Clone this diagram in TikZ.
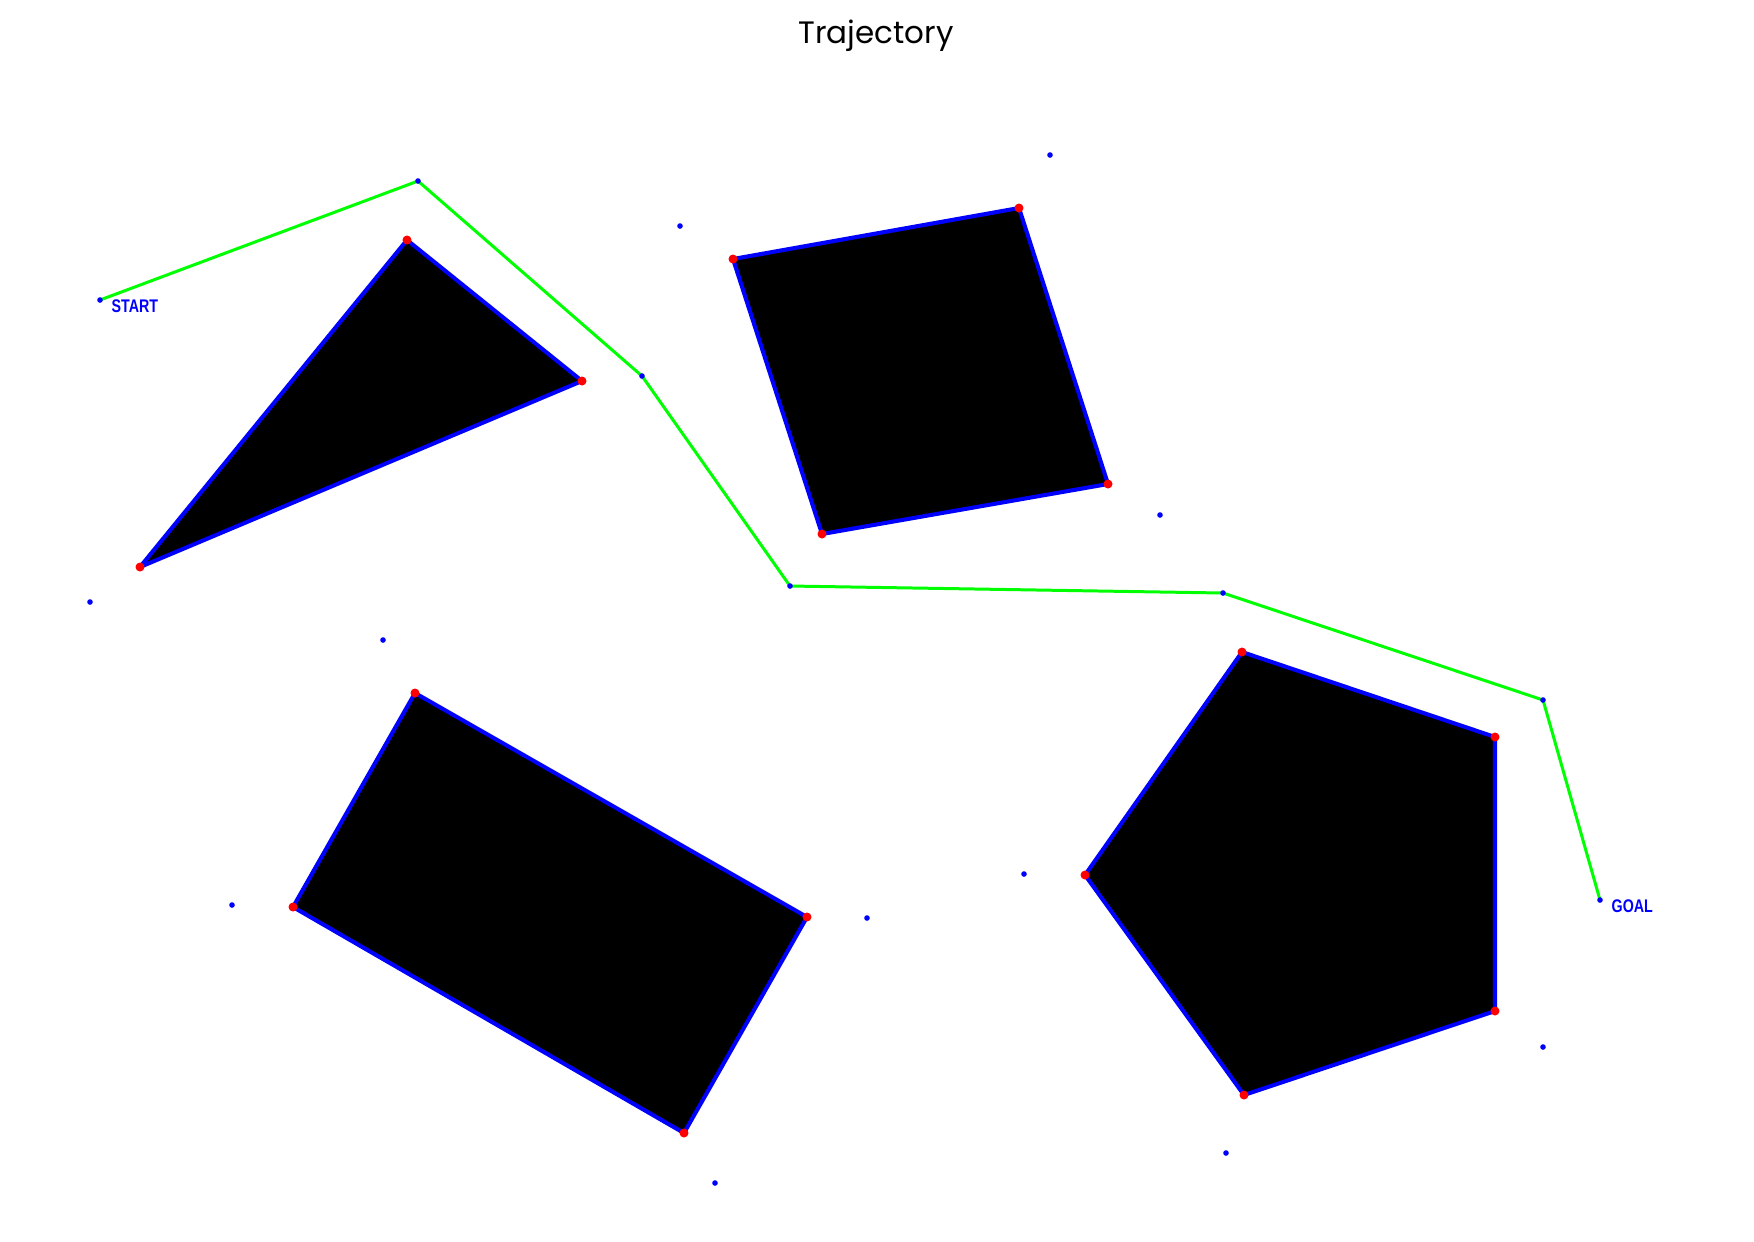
\documentclass[tikz,border=0pt]{standalone}
\usepackage{fontspec}
\setmainfont{Liberation Sans}
\newfontfamily\titlefont{Poppins}
\usetikzlibrary{calc}
\definecolor{pathgreen}{RGB}{0,255,0}
\definecolor{pureblue}{RGB}{0,0,255}
\definecolor{purered}{RGB}{255,0,0}
\tikzset{
  obstacle/.style={draw=pureblue, fill=black, line width=1.15pt, line join=round},
  route/.style={draw=pathgreen, line width=0.85pt},
  corner/.style={fill=purered},
  sample/.style={fill=pureblue},
  tag/.style={text=pureblue, inner sep=0pt, font=\bfseries\fontsize{5.2}{6}\selectfont}
}
\begin{document}
\begin{tikzpicture}[x=0.01cm, y=-0.01cm]
            \useasboundingbox (0,0) rectangle (1754,1241);
            % title
            \node[anchor=base, inner sep=0pt, font=\titlefont\fontsize{8.8}{10}\selectfont] (title) at (876,43) {Trajectory};
            % waypoints
            \coordinate(S)at(100,300);
            \coordinate(W1)at(418,181);
            \coordinate(W2)at(642,376);
            \coordinate(W3)at(790,586);
            \coordinate(W4)at(1223,593);
            \coordinate(W5)at(1543,700);
            \coordinate(G)at(1600,900);
            % triangle
            \coordinate(T1)at(407,240);
            \coordinate(T2)at(582,381);
            \coordinate(T3)at(140,567);
            % square
            \coordinate(Q1)at(733,259);
            \coordinate(Q2)at(1019,208);
            \coordinate(Q3)at(1108,484);
            \coordinate(Q4)at(822,534);
            % rectangle
            \coordinate(R1)at(415,693);
            \coordinate(R2)at(807,917);
            \coordinate(R3)at(684,1133);
            \coordinate(R4)at(293,907);
            % pentagon
            \coordinate(F1)at(1242,652);
            \coordinate(F2)at(1495,737);
            \coordinate(F3)at(1495,1011);
            \coordinate(F4)at(1244,1095);
            \coordinate(F5)at(1085,875);
            % obstacles
            \path[obstacle](T1)--(T2)--(T3)--cycle;
            \path[obstacle](Q1)--(Q2)--(Q3)--(Q4)--cycle;
            \path[obstacle](R1)--(R2)--(R3)--(R4)--cycle;
            \path[obstacle](F1)--(F2)--(F3)--(F4)--(F5)--cycle;
            % obstacle corners
            \foreach \c in {T1,T2,T3,Q1,Q2,Q3,Q4,R1,R2,R3,R4,F1,F2,F3,F4,F5}
              \path[corner](\c)circle(4.5);
            % path
            \path[route](S)--(W1)--(W2)--(W3)--(W4)--(W5)--(G);
            % samples
            \foreach \p in {(1050,155),(680,226),(1160,515),(90,602),(383,640),(232,905),(867,918),(715,1183),(1024,874),(1543,1047),(1226,1153)}
              \path[sample]\p circle(2.8);
            \foreach \c in {S,W1,W2,W3,W4,W5,G}
              \path[sample](\c)circle(2.8);
            % labels
            \node[tag, anchor=base west] (startlbl) at (111,312) {\scalebox{0.78}[1]{START}};
            \node[tag, anchor=base west] (goallbl) at (1611,912) {\scalebox{0.78}[1]{GOAL}};
        \end{tikzpicture}
\end{document}
